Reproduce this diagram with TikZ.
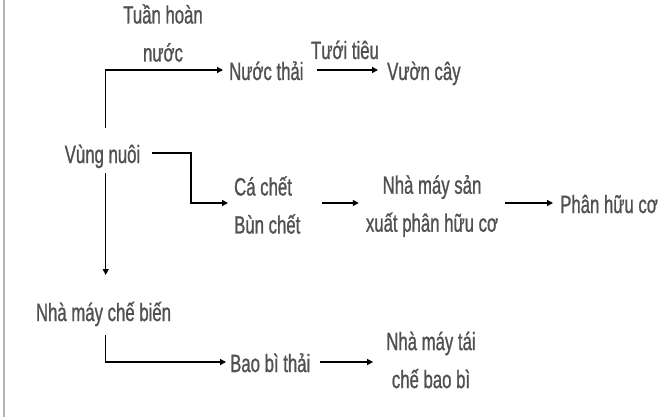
\documentclass[tikz,border=0pt]{standalone}
\usepackage{fontspec}
\newfontfamily\lbf[FakeStretch=0.67,FakeBold=0.9]{Liberation Sans}
\usetikzlibrary{arrows.meta,calc}
\definecolor{txt}{RGB}{80,80,80}
\definecolor{edgegray}{RGB}{180,180,180}
\begin{document}
\begin{tikzpicture}[x=1pt,y=-1pt,
  lbl/.style={inner sep=0pt, text=txt, font=\lbf\fontsize{25}{38}\selectfont},
  arr/.style={draw=black, line width=1.3pt, -{Triangle[length=6pt,width=6pt]}}]
\useasboundingbox (0,0) rectangle (660,417);
\fill[white] (0,0) rectangle (660,417);
\draw[edgegray, line width=1.5pt] (4,0) -- (4,417);

% nodes
\node[lbl, align=center] (th) at (163,33) {Tuần hoàn\\nước};
\node[lbl, anchor=base west] (nt) at (229,80) {Nước thải};
\node[lbl, anchor=base] (tt) at (345,59) {Tưới tiêu};
\node[lbl, anchor=base west] (vc) at (387,80) {Vườn cây};
\node[lbl, anchor=base] (vn) at (102.5,163) {Vùng nuôi};
\node[lbl, align=left, anchor=west] (cc) at (234,205) {Cá chết\\Bùn chết};
\node[lbl, align=center] (nms) at (432,206) {Nhà máy sản\\xuất phân hữu cơ};
\node[lbl, anchor=base west] (phc) at (560,213) {Phân hữu cơ};
\node[lbl, anchor=base] (nmcb) at (103.5,321) {Nhà máy chế biến};
\node[lbl, anchor=base west] (bbt) at (230,372) {Bao bì thải};
\node[lbl, align=center] (nmt) at (431,360) {Nhà máy tái\\chế bao bì};

% free ends and bends
\coordinate (s1) at (105.7,128);
\coordinate (s2) at (317,70);
\coordinate (s3) at (152,153);
\coordinate (k3) at (191,153);
\coordinate (s4) at (105.7,173);
\coordinate (e4) at (105.7,275);
\coordinate (s5) at (322,203);
\coordinate (s6) at (505,203);
\coordinate (s7) at (105.7,335);
\coordinate (s8) at (320,362);

% connectors
\draw[arr] (s1) |- ($(nt.base west)+(-6,-10)$);
\draw[arr] (s2) -- ($(vc.base west)+(-9,-10)$);
\draw[arr] (s3) -- (k3) |- ($(cc.west |- s5)+(-6,0)$);
\draw[arr] (s4) -- (e4);
\draw[arr] (s5) -- ($(nms.west |- s5)+(-7,0)$);
\draw[arr] (s6) -- ($(phc.base west)+(-7,-10)$);
\draw[arr] (s7) |- ($(bbt.base west)+(-4,-10)$);
\draw[arr] (s8) -- ($(nmt.west |- bbt.base)+(-13,-10)$);
\end{tikzpicture}
\end{document}
